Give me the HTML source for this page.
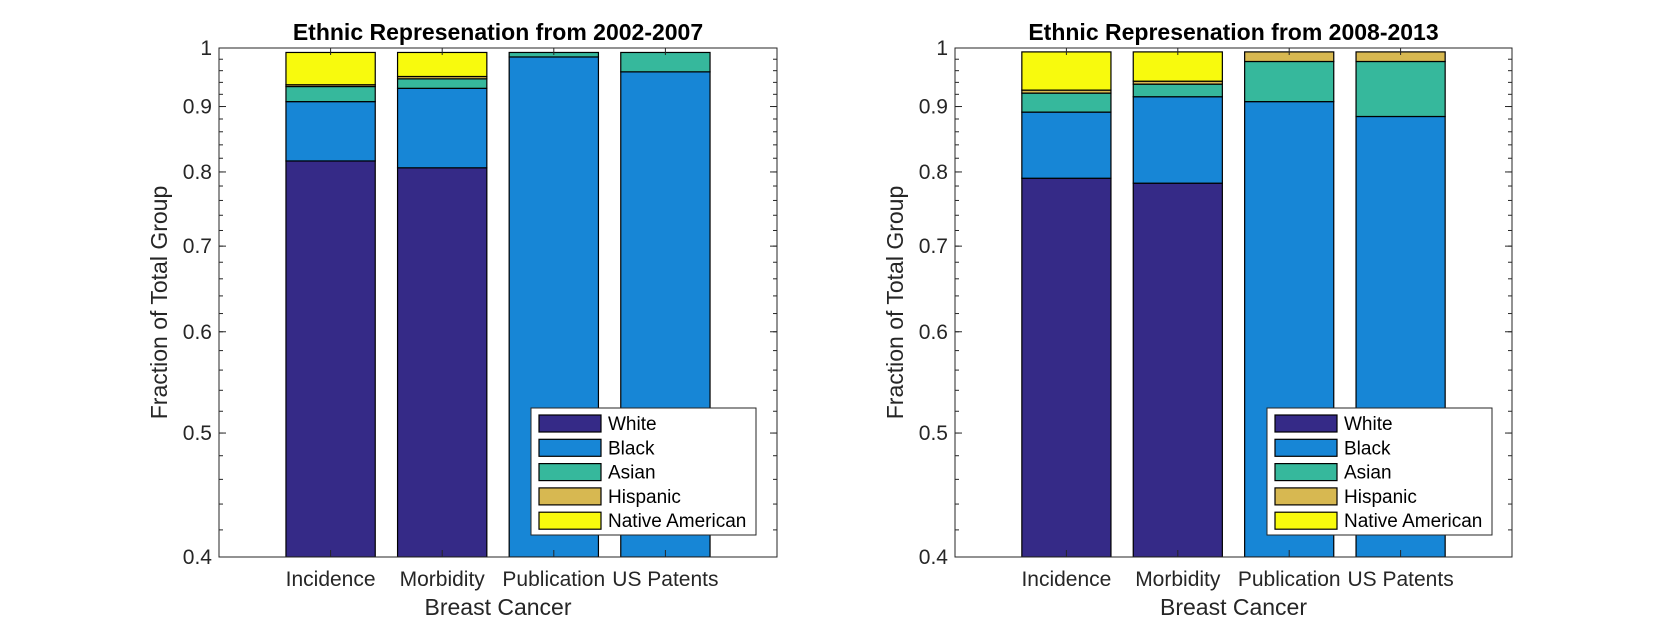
<!DOCTYPE html>
<html><head><meta charset="utf-8"><style>
body{margin:0;background:#fff;}
svg{display:block;font-family:"Liberation Sans",sans-serif;}
</style></head><body>
<svg id="chart" width="1667" height="625" viewBox="0 0 1667 625"></svg>
<script>
const categories = ["Incidence","Morbidity","Publication","US Patents"];
const seriesNames = ["White","Black","Asian","Hispanic","Native American"];
const colors = ["#352a87","#1786d6","#36b89c","#d7b851","#f8fa0d"];
const yTicks = [0.4,0.5,0.6,0.7,0.8,0.9,1];
const yTickLabels = ["0.4","0.5","0.6","0.7","0.8","0.9","1"];
// panel 1 (2002-2007)
const p1White = [0.816,0.806,0.30,0.30];
const p1Black = [0.092,0.124,0.684,0.658];
const p1Asian = [0.025,0.016,0.008,0.034];
const p1Hispanic = [0.003,0.004,0.0,0.0];
const p1Native = [0.056,0.042,0.0,0.0];
// panel 2 (2008-2013)
const p2White = [0.791,0.784,0.30,0.30];
const p2Black = [0.100,0.132,0.608,0.584];
const p2Asian = [0.031,0.021,0.068,0.092];
const p2Hispanic = [0.005,0.005,0.017,0.017];
const p2Native = [0.066,0.051,0.0,0.0];

const NS="http://www.w3.org/2000/svg";
const svg=document.getElementById('chart');
function mk(tag,attrs,parent){const e=document.createElementNS(NS,tag);for(const k in attrs)e.setAttribute(k,attrs[k]);(parent||svg).appendChild(e);return e;}

function panel(x0,x1,title,series,idx){
  const top=48,bot=557,ymin=0.4,ymax=1;
  const g=mk('g',{});
  
  
  const X=v=>x0+(v/5)*(x1-x0);
  const Y=v=>{const c=Math.max(v,ymin);return top+(Math.log(ymax)-Math.log(c))/(Math.log(ymax)-Math.log(ymin))*(bot-top);};
  const bw=0.8*(x1-x0)/5;
  const clip='clip'+idx;
  const cp=mk('clipPath',{id:clip},g);mk('rect',{x:x0,y:top,width:x1-x0,height:bot-top},cp);
  const bars=mk('g',{'clip-path':'url(#'+clip+')'},g);
  categories.forEach((c,i)=>{
    let cum=0;
    series.forEach((s,k)=>{
      const v=s[i];if(v<=0){return;}
      const lo=cum,hi=cum+v;cum=hi;
      if(hi<=ymin)return;
      const r=mk('rect',{x:X(i+1)-bw/2,y:Y(hi),width:bw,height:Y(lo)-Y(hi),fill:colors[k],stroke:'#000','stroke-width':1.2},bars);
      
      
    });
  });
  const box=mk('rect',{x:x0,y:top,width:x1-x0,height:bot-top,fill:'none',stroke:'#262626','stroke-width':1},g);
  
  
  yTicks.forEach((t,i)=>{
    const y=Y(t);
    mk('line',{x1:x0,x2:x0+7,y1:y,y2:y,stroke:'#262626'},g);
    mk('line',{x1:x1,x2:x1-7,y1:y,y2:y,stroke:'#262626'},g);
    const tx=mk('text',{x:x0-7,y:y+7,'text-anchor':'end','font-size':21,fill:'#262626'},g);
    tx.textContent=yTickLabels[i];
    
    
  });
  for(let m=0.42;m<1;m+=0.02){
    const y=Y(m);
    mk('line',{x1:x0,x2:x0+4,y1:y,y2:y,stroke:'#262626'},g);
    mk('line',{x1:x1,x2:x1-4,y1:y,y2:y,stroke:'#262626'},g);
  }
  categories.forEach((c,i)=>{
    const x=X(i+1);
    mk('line',{x1:x,x2:x,y1:bot,y2:bot-7,stroke:'#262626'},g);
    mk('line',{x1:x,x2:x,y1:top,y2:top+7,stroke:'#262626'},g);
    const tx=mk('text',{x:x,y:586,'text-anchor':'middle','font-size':21,fill:'#262626'},g);
    tx.textContent=c;
    
    
  });
  const xl=mk('text',{x:(x0+x1)/2,y:615,'text-anchor':'middle','font-size':23,fill:'#262626'},g);
  xl.textContent='Breast Cancer';
  
  
  const yl=mk('text',{x:0,y:0,'text-anchor':'middle','font-size':23,fill:'#262626',transform:'translate('+(x0-52)+','+((top+bot)/2)+') rotate(-90)'},g);
  yl.textContent='Fraction of Total Group';
  
  
  const tt=mk('text',{x:(x0+x1)/2,y:40,'text-anchor':'middle','font-size':23,'font-weight':'bold',fill:'#000'},g);
  tt.textContent=title;
  
  
  const lx=x0+312,ly=408;
  const lg=mk('g',{},g);
  
  
  mk('rect',{x:lx,y:ly,width:225,height:127,fill:'#fff',stroke:'#262626'},lg);
  seriesNames.forEach((n,k)=>{
    const cy=ly+15+k*24.3;
    const e=mk('g',{},lg);
    
    
    mk('rect',{x:lx+8,y:cy-8,width:62,height:17,fill:colors[k],stroke:'#000','stroke-width':1.2},e);
    const t=mk('text',{x:lx+77,y:cy+7,'font-size':19,fill:'#000'},e);
    t.textContent=n;
  });
}
panel(219,777,'Ethnic Represenation from 2002-2007',[p1White,p1Black,p1Asian,p1Hispanic,p1Native],1);
panel(955,1512,'Ethnic Represenation from 2008-2013',[p2White,p2Black,p2Asian,p2Hispanic,p2Native],2);
</script>
</body></html>
